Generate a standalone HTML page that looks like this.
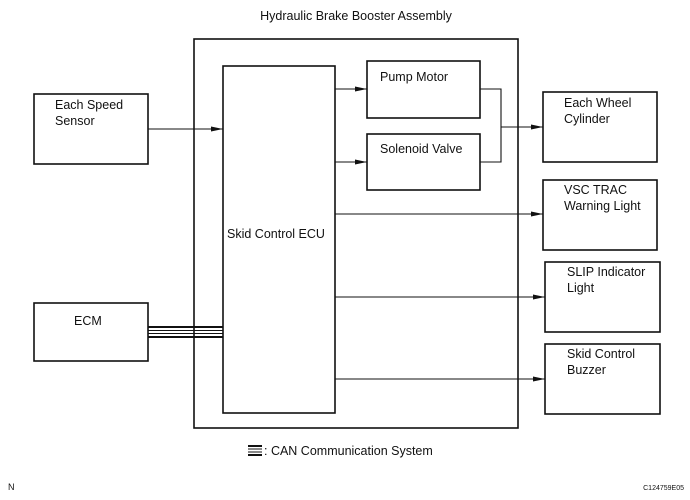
<!DOCTYPE html>
<html><head><meta charset="utf-8"><style>
body{margin:0;background:#fff}
svg{display:block}
text{font-family:"Liberation Sans",sans-serif;font-size:12.5px;fill:#111}
</style></head><body>
<svg width="690" height="500" viewBox="0 0 690 500" xmlns="http://www.w3.org/2000/svg">
<defs><marker id="a" markerWidth="12" markerHeight="8" refX="12" refY="4" orient="auto" markerUnits="userSpaceOnUse"><path d="M0,1.5 L12,4 L0,6.5 Z" fill="#111"/></marker></defs>
<g fill="none" stroke="#111" stroke-width="1.6">
<rect x="194" y="39" width="324" height="389"/>
<rect x="223" y="66" width="112" height="347"/>
<rect x="34" y="94" width="114" height="70"/>
<rect x="367" y="61" width="113" height="57"/>
<rect x="367" y="134" width="113" height="56"/>
<rect x="543" y="92" width="114" height="70"/>
<rect x="543" y="180" width="114" height="70"/>
<rect x="545" y="262" width="115" height="70"/>
<rect x="545" y="344" width="115" height="70"/>
<rect x="34" y="303" width="114" height="58"/>
</g>
<g stroke="#111" stroke-width="1.1" fill="none">
<line x1="148" y1="129" x2="223" y2="129" marker-end="url(#a)"/>
<line x1="335" y1="89" x2="367" y2="89" marker-end="url(#a)"/>
<line x1="335" y1="162" x2="367" y2="162" marker-end="url(#a)"/>
<polyline points="480,89 501,89 501,162 480,162"/>
<line x1="501" y1="127" x2="543" y2="127" marker-end="url(#a)"/>
<line x1="335" y1="214" x2="543" y2="214" marker-end="url(#a)"/>
<line x1="335" y1="297" x2="545" y2="297" marker-end="url(#a)"/>
<line x1="335" y1="379" x2="545" y2="379" marker-end="url(#a)"/>
</g>
<g stroke="#111">
<line x1="148" y1="327" x2="223" y2="327" stroke-width="2"/>
<line x1="148" y1="330.5" x2="223" y2="330.5" stroke-width="1"/>
<line x1="148" y1="333.5" x2="223" y2="333.5" stroke-width="1"/>
<line x1="148" y1="337" x2="223" y2="337" stroke-width="2"/>
<line x1="248" y1="446" x2="262" y2="446" stroke-width="2"/>
<line x1="248" y1="449" x2="262" y2="449" stroke-width="1"/>
<line x1="248" y1="452" x2="262" y2="452" stroke-width="1"/>
<line x1="248" y1="455" x2="262" y2="455" stroke-width="2"/>
</g>
<text x="356" y="20" text-anchor="middle">Hydraulic Brake Booster Assembly</text>
<text x="55" y="109">Each Speed</text><text x="55" y="125">Sensor</text>
<text x="227" y="238">Skid Control ECU</text>
<text x="380" y="81">Pump Motor</text>
<text x="380" y="153">Solenoid Valve</text>
<text x="564" y="107">Each Wheel</text><text x="564" y="123">Cylinder</text>
<text x="564" y="194">VSC TRAC</text><text x="564" y="210">Warning Light</text>
<text x="567" y="276">SLIP Indicator</text><text x="567" y="292">Light</text>
<text x="567" y="358">Skid Control</text><text x="567" y="374">Buzzer</text>
<text x="74" y="325">ECM</text>
<text x="264" y="455">: CAN Communication System</text>
<text x="8" y="490" style="font-size:9px">N</text>
<text x="684" y="490" text-anchor="end" style="font-size:7px">C124759E05</text>
</svg>
</body></html>
